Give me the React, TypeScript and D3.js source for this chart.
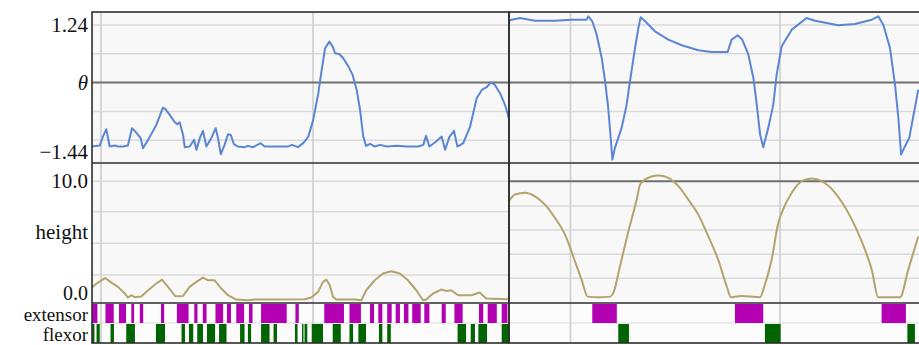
import React from 'react';
import * as d3 from 'd3';

const W = 919;
const H = 345;

// ---- joint angle (rad), first trial ----
const angleLeftT = [0.954, 0.994, 1.009, 1.025, 1.041, 1.065, 1.080, 1.104, 1.127, 1.146, 1.159, 1.175, 1.187, 1.198, 1.222, 1.261, 1.292, 1.303, 1.324, 1.348, 1.360, 1.371, 1.387, 1.395, 1.418, 1.439, 1.450, 1.466, 1.481, 1.497, 1.520, 1.541, 1.552, 1.565, 1.583, 1.599, 1.612, 1.627, 1.646, 1.678, 1.693, 1.717, 1.753, 1.772, 1.819, 1.882, 1.901, 1.929, 1.954, 1.978, 2.001, 2.025, 2.041, 2.057, 2.077, 2.093, 2.104, 2.124, 2.143, 2.167, 2.187, 2.206, 2.222, 2.237, 2.250, 2.269, 2.292, 2.316, 2.348, 2.395, 2.442, 2.497, 2.520, 2.533, 2.549, 2.575, 2.607, 2.623, 2.643, 2.665, 2.681, 2.709, 2.741, 2.772, 2.796, 2.819, 2.840, 2.858, 2.882, 2.906, 2.926];
const angleLeftV = [-1.376, -1.355, -1.161, -1.002, -1.376, -1.355, -1.376, -1.376, -1.355, -0.981, -1.039, -1.125, -1.196, -1.411, -1.232, -0.910, -0.538, -0.566, -0.695, -0.852, -0.895, -0.852, -1.125, -1.389, -1.376, -1.232, -1.447, -1.196, -1.039, -1.376, -1.196, -0.981, -1.196, -1.540, -1.340, -1.110, -1.125, -1.325, -1.376, -1.389, -1.361, -1.389, -1.303, -1.376, -1.376, -1.376, -1.340, -1.389, -1.303, -1.161, -0.802, -0.228, 0.273, 0.740, 0.882, 0.774, 0.632, 0.617, 0.525, 0.344, 0.166, -0.157, -0.587, -1.161, -1.361, -1.318, -1.376, -1.340, -1.376, -1.361, -1.376, -1.376, -1.340, -1.146, -1.376, -1.290, -1.161, -1.447, -1.174, -1.039, -1.376, -1.303, -0.946, -0.335, -0.157, -0.099, 0.009, -0.049, -0.228, -0.480, -0.802];

// ---- joint angle (rad), second trial ----
const angleRightT = [0.703, 0.719, 0.759, 0.831, 0.926, 1.006, 1.077, 1.085, 1.104, 1.125, 1.149, 1.165, 1.180, 1.193, 1.200, 1.212, 1.244, 1.268, 1.284, 1.308, 1.324, 1.335, 1.356, 1.403, 1.467, 1.531, 1.610, 1.674, 1.750, 1.769, 1.798, 1.820, 1.849, 1.873, 1.889, 1.905, 1.920, 1.944, 1.968, 1.984, 2.008, 2.056, 2.127, 2.167, 2.278, 2.358, 2.438, 2.469, 2.493, 2.525, 2.549, 2.565, 2.578, 2.597, 2.617, 2.660];
const angleRightV = [1.320, 1.355, 1.391, 1.333, 1.333, 1.355, 1.355, 1.428, 1.320, 1.032, 0.531, 0.030, -0.544, -1.260, -1.656, -1.404, -0.974, -0.473, 0.030, 0.746, 1.176, 1.406, 1.320, 1.105, 0.925, 0.804, 0.697, 0.660, 0.660, 0.925, 1.019, 0.925, 0.602, 0.101, -0.473, -1.118, -1.389, -0.974, -0.473, 0.172, 0.783, 1.140, 1.391, 1.333, 1.234, 1.262, 1.355, 1.428, 1.247, 0.746, -0.043, -0.759, -1.548, -1.368, -1.189, -0.151];

// ---- body height, first trial ----
const heightLeftT = [0.954, 0.986, 1.020, 1.049, 1.080, 1.112, 1.127, 1.143, 1.159, 1.190, 1.222, 1.261, 1.288, 1.316, 1.350, 1.387, 1.418, 1.450, 1.481, 1.505, 1.536, 1.567, 1.599, 1.638, 1.693, 1.725, 1.819, 1.961, 1.992, 2.024, 2.047, 2.063, 2.079, 2.094, 2.110, 2.197, 2.228, 2.251, 2.291, 2.330, 2.369, 2.409, 2.448, 2.487, 2.519, 2.534, 2.566, 2.605, 2.629, 2.652, 2.684, 2.747, 2.786, 2.817, 2.920];
const heightLeftV = [0.80, 1.26, 1.66, 1.26, 0.89, 0.32, -0.03, 0.17, 0.00, 0.06, 0.60, 1.18, 1.52, 0.89, 0.09, 0.11, 0.89, 1.32, 1.69, 1.46, 1.46, 0.75, 0.17, -0.20, -0.26, -0.20, -0.20, -0.17, -0.03, 0.46, 1.32, 1.52, 1.03, 0.03, -0.20, -0.20, -0.26, 0.60, 1.46, 2.04, 2.24, 2.04, 1.46, 0.60, -0.26, -0.20, 0.32, 0.66, 0.54, 0.60, 0.17, 0.17, 0.40, -0.11, -0.17];

// ---- body height, second trial ----
const heightRightT = [0.706, 0.735, 0.783, 0.830, 0.878, 0.926, 0.974, 1.013, 1.053, 1.082, 1.133, 1.189, 1.204, 1.236, 1.276, 1.316, 1.332, 1.356, 1.419, 1.467, 1.515, 1.562, 1.610, 1.658, 1.705, 1.746, 1.766, 1.817, 1.905, 1.925, 1.960, 1.992, 2.008, 2.056, 2.104, 2.151, 2.199, 2.263, 2.326, 2.390, 2.438, 2.469, 2.517, 2.573, 2.612, 2.660];
const heightRightV = [8.27, 8.85, 9.00, 8.70, 7.98, 6.83, 5.39, 3.51, 1.50, 0.05, 0, 0.05, 0.35, 2.65, 5.67, 8.42, 9.71, 10.15, 10.49, 10.29, 9.57, 8.42, 7.12, 5.24, 3.23, 0.92, 0, 0.11, 0, 0.92, 3.23, 6.40, 7.27, 9.00, 10.00, 10.23, 10.00, 9.00, 7.27, 4.81, 2.36, 0, 0, 0, 2.36, 5.24];

// ---- muscle activation intervals (on / off times) ----
const extensorLeftOn = [0.958, 1.021, 1.085, 1.143, 1.183, 1.283, 1.358, 1.440, 1.480, 1.540, 1.594, 1.638, 1.698, 1.755, 1.917, 2.053, 2.172, 2.269, 2.308, 2.350, 2.390, 2.429, 2.468, 2.525, 2.607, 2.667, 2.783, 2.824, 2.890];
const extensorLeftOff = [0.983, 1.060, 1.118, 1.156, 1.199, 1.298, 1.413, 1.455, 1.498, 1.576, 1.613, 1.675, 1.715, 1.876, 1.933, 2.146, 2.226, 2.288, 2.327, 2.371, 2.410, 2.450, 2.508, 2.549, 2.626, 2.706, 2.803, 2.867, 2.917];
const flexorLeftOn = [0.958, 0.979, 1.045, 1.119, 1.259, 1.380, 1.415, 1.454, 1.500, 1.557, 1.656, 1.693, 1.755, 1.814, 1.915, 1.948, 1.960, 1.994, 2.093, 2.172, 2.214, 2.311, 2.350, 2.682, 2.744, 2.780, 2.890];
const flexorLeftOff = [0.969, 0.994, 1.061, 1.160, 1.302, 1.396, 1.435, 1.481, 1.538, 1.592, 1.677, 1.708, 1.795, 1.830, 1.927, 1.955, 1.973, 2.047, 2.131, 2.189, 2.250, 2.327, 2.367, 2.722, 2.764, 2.821, 2.925];
const extensorRightOn = [1.104, 1.785, 2.485];
const extensorRightOff = [1.221, 1.920, 2.601];
const flexorRightOn = [1.228, 1.928, 2.608];
const flexorRightOff = [1.279, 2.003, 2.644];

// ---- grid / tick values ----
const angleGrid = [1.24, 0.62, -0.62, -1.24];
const angleZero = 0;
const heightGridLeft = [10, 7.37, 4.65, 1.91];
const heightGridRight = [7.86, 5.79, 3.70, 1.63];
const heightRefRight = 10;
const timeGrid = [1, 2];

const BLUE = '#5b86d4';
const TAN = '#b3a36c';
const MAGENTA = '#b300b3';
const GREEN = '#006400';
const GRID = '#dadada';
const DARK = '#6e6e6e';
const FRAME = '#2e2e2e';
const FONT = "'Liberation Serif', 'DejaVu Serif', serif";

// row geometry
const ROW = {
  angle: [12, 163],
  height: [163, 303],
  ext: [303, 323],
  flex: [323, 343],
};
const X_SPLIT = 509;
const X_LEFT = 92;

export default function App() {
  const xL = d3.scaleLinear().domain([0.9575, 2.9245]).range([X_LEFT, X_SPLIT]);
  const xR = d3.scaleLinear().domain([0.7064, 2.6635]).range([X_SPLIT, W]);
  const yA = d3.scaleLinear().domain([-1.73, 1.52]).range([ROW.angle[1], ROW.angle[0]]);
  const yH = d3.scaleLinear().domain([-0.5, 11.57]).range([ROW.height[1], ROW.height[0]]);

  const mkLine = (x: d3.ScaleLinear<number, number>, y: d3.ScaleLinear<number, number>, curve: d3.CurveFactory) =>
    d3.line<[number, number]>().x(d => x(d[0])).y(d => y(d[1])).curve(curve);

  const zip = (a: number[], b: number[]) => a.map((t, i) => [t, b[i]] as [number, number]);

  const angleL = mkLine(xL, yA, d3.curveLinear)(zip(angleLeftT, angleLeftV)) || '';
  const angleR = mkLine(xR, yA, d3.curveLinear)(zip(angleRightT, angleRightV)) || '';
  const heightL = mkLine(xL, yH, d3.curveLinear)(zip(heightLeftT, heightLeftV)) || '';
  const heightR = mkLine(xR, yH, d3.curveMonotoneX)(zip(heightRightT, heightRightV)) || '';

  const panels = [
    { id: 'L', x0: X_LEFT, x1: X_SPLIT, x: xL },
    { id: 'R', x0: X_SPLIT, x1: W + 4, x: xR },
  ];

  const bars = (
    x: d3.ScaleLinear<number, number>,
    on: number[],
    off: number[],
    row: number[],
    color: string,
    key: string
  ) =>
    on.map((t, i) => (
      <rect
        key={key + i}
        x={x(t)}
        y={row[0] + 1}
        width={Math.max(1, x(off[i]) - x(t))}
        height={row[1] - row[0] - 1}
        fill={color}
      />
    ));

  const label = (text: string, y: number, size = 21, italic = false) => (
    <text
      x={88}
      y={y}
      dy="0.34em"
      textAnchor="end"
      fontSize={size}
      fontStyle={italic ? 'italic' : 'normal'}
      fill="#111"
      style={{ fontFamily: FONT }}
    >
      {text}
    </text>
  );

  return (
    <svg
      width={W}
      height={H}
      style={{ position: 'absolute', left: 0, top: 0, background: '#fff' }}
    >
      <defs>
        {panels.map(p => (
          <clipPath id={'clip' + p.id} key={p.id}>
            <rect x={p.x0} y={ROW.angle[0]} width={p.x1 - p.x0} height={ROW.flex[1] - ROW.angle[0]} />
          </clipPath>
        ))}
      </defs>

      {panels.map(p => (
        <g key={'bg' + p.id}>
          <rect x={p.x0} y={ROW.angle[0]} width={p.x1 - p.x0} height={ROW.height[1] - ROW.angle[0]} fill="#f8f8f8" />
          <rect x={p.x0} y={ROW.ext[0]} width={p.x1 - p.x0} height={ROW.flex[1] - ROW.ext[0]} fill="#fcfcfc" />
        </g>
      ))}

      {/* horizontal grid */}
      {panels.map(p =>
        angleGrid.map(v => (
          <line key={'ag' + p.id + v} x1={p.x0} x2={p.x1} y1={yA(v)} y2={yA(v)} stroke={GRID} strokeWidth={1.6} />
        ))
      )}
      {heightGridLeft.map(v => (
        <line key={'hgl' + v} x1={X_LEFT} x2={X_SPLIT} y1={yH(v)} y2={yH(v)} stroke={GRID} strokeWidth={1.6} />
      ))}
      {heightGridRight.map(v => (
        <line key={'hgr' + v} x1={X_SPLIT} x2={W} y1={yH(v)} y2={yH(v)} stroke={GRID} strokeWidth={1.6} />
      ))}
      <line x1={X_SPLIT} x2={W} y1={ROW.flex[0]} y2={ROW.flex[0]} stroke={GRID} strokeWidth={1.2} />
      <line x1={X_LEFT} x2={X_SPLIT} y1={ROW.flex[0]} y2={ROW.flex[0]} stroke={GRID} strokeWidth={1.2} />

      {/* vertical time grid */}
      {panels.map(p =>
        timeGrid.map(t => (
          <line
            key={'tg' + p.id + t}
            x1={p.x(t)}
            x2={p.x(t)}
            y1={ROW.angle[0]}
            y2={ROW.flex[1]}
            stroke="#d2d2d2"
            strokeWidth={1.8}
          />
        ))
      )}

      {/* reference lines */}
      {panels.map(p => (
        <line key={'z' + p.id} x1={p.x0} x2={p.x1} y1={yA(angleZero)} y2={yA(angleZero)} stroke={DARK} strokeWidth={2} />
      ))}
      <line x1={X_SPLIT} x2={W} y1={yH(heightRefRight)} y2={yH(heightRefRight)} stroke={DARK} strokeWidth={2} />

      {/* traces */}
      <g clipPath="url(#clipL)">
        <path d={angleL} fill="none" stroke={BLUE} strokeWidth={2} strokeLinejoin="round" />
        <path d={heightL} fill="none" stroke={TAN} strokeWidth={2} strokeLinejoin="round" />
        {bars(xL, extensorLeftOn, extensorLeftOff, ROW.ext, MAGENTA, 'el')}
        {bars(xL, flexorLeftOn, flexorLeftOff, ROW.flex, GREEN, 'fl')}
      </g>
      <g clipPath="url(#clipR)">
        <path d={angleR} fill="none" stroke={BLUE} strokeWidth={2} strokeLinejoin="round" />
        <path d={heightR} fill="none" stroke={TAN} strokeWidth={2} strokeLinejoin="round" />
        {bars(xR, extensorRightOn, extensorRightOff, ROW.ext, MAGENTA, 'er')}
        {bars(xR, flexorRightOn, flexorRightOff, ROW.flex, GREEN, 'fr')}
      </g>

      {/* frames */}
      {panels.map(p => (
        <g key={'fr' + p.id} fill="none" stroke={FRAME} strokeWidth={1.6}>
          <rect x={p.x0} y={ROW.angle[0]} width={p.x1 - p.x0} height={ROW.flex[1] - ROW.angle[0]} />
          <line x1={p.x0} x2={p.x1} y1={ROW.height[0]} y2={ROW.height[0]} />
          <line x1={p.x0} x2={p.x1} y1={ROW.ext[0]} y2={ROW.ext[0]} />
        </g>
      ))}

      {/* axis labels */}
      {label('1.24', yA(1.24))}
      {label('θ', yA(0), 21, true)}
      {label('−1.44', yA(-1.44) + 2)}
      {label('10.0', yH(10))}
      {label('height', (ROW.height[0] + ROW.height[1]) / 2 - 1)}
      {label('0.0', yH(0) - 4, 20)}
      {label('extensor', (ROW.ext[0] + ROW.ext[1]) / 2 + 2, 19)}
      {label('flexor', (ROW.flex[0] + ROW.flex[1]) / 2 + 1.5, 19)}
    </svg>
  );
}
